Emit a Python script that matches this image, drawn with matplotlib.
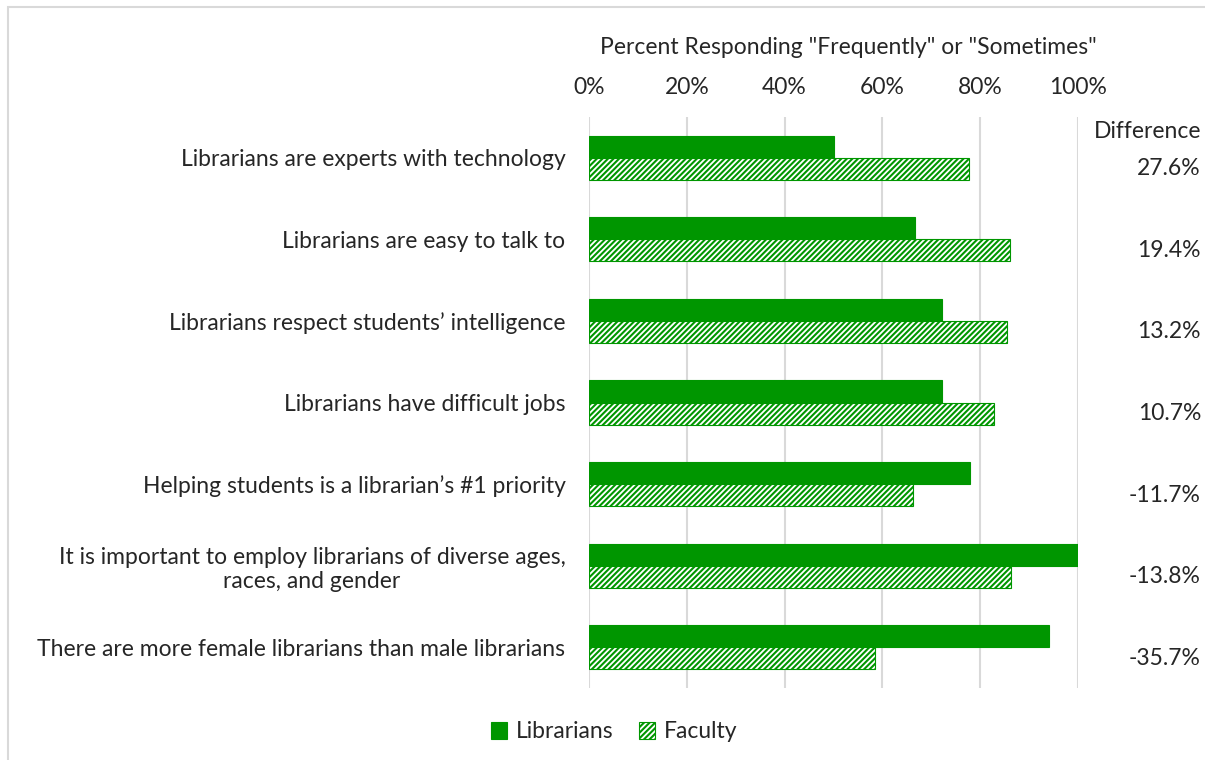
import numpy as np
import matplotlib.pyplot as plt
from matplotlib.patches import Rectangle
from matplotlib.transforms import blended_transform_factory
from matplotlib.ticker import PercentFormatter

plt.rcParams['font.family'] = ['Lato', 'DejaVu Sans']
plt.rcParams['hatch.linewidth'] = 1.5

categories = ['Librarians are experts with technology',
              'Librarians are easy to talk to',
              'Librarians respect students\u2019 intelligence',
              'Librarians have difficult jobs',
              'Helping students is a librarian\u2019s #1 priority',
              'It is important to employ librarians of diverse ages,\nraces, and gender',
              'There are more female librarians than male librarians']
librarians = [50.1, 66.7, 72.2, 72.2, 77.9, 100.0, 94.1]
faculty = [77.7, 86.1, 85.4, 82.9, 66.2, 86.2, 58.4]
difference = ['27.6%', '19.4%', '13.2%', '10.7%', '-11.7%', '-13.8%', '-35.7%']

green = '#009600'
txt = '#262626'
fs = 16.5
W, H = 1205, 760

fig = plt.figure(figsize=(W / 100, H / 100), dpi=100)
ax = fig.add_axes([589 / W, 1 - 688 / H, (1078 - 589) / W, (688 - 117) / H])

y = np.arange(len(categories))
bh = 0.27
ax.barh(y - bh / 2, librarians, height=bh, color=green, edgecolor=green,
        linewidth=0.8, label='Librarians', zorder=3)
ax.barh(y + bh / 2, faculty, height=bh, color='white', edgecolor=green,
        hatch='//////', linewidth=0.8, label='Faculty', zorder=3)

ax.set_ylim(len(categories) - 0.5, -0.5)
ax.set_xlim(0, 100)
ax.set_xticks(np.arange(0, 101, 20))
ax.xaxis.set_major_formatter(PercentFormatter(decimals=0))
ax.xaxis.tick_top()
ax.tick_params(axis='x', length=0, pad=14, labelsize=fs, labelcolor=txt)
ax.set_yticks(y)
ax.set_yticklabels(categories, ha='right', multialignment='center')
ax.tick_params(axis='y', length=0, pad=17, labelsize=fs, labelcolor=txt)
ax.grid(axis='x', color='#d9d9d9', linewidth=1.5, zorder=0)
for s in ax.spines.values():
    s.set_visible(False)

fig.text(848 / W, 1 - 48 / H, 'Percent Responding "Frequently" or "Sometimes"',
         ha='center', va='center', fontsize=fs, color=txt)
fig.text(1148 / W, 1 - 131 / H, 'Difference', ha='center', va='center',
         fontsize=fs, color=txt)
tr = blended_transform_factory(fig.transFigure, ax.transData)
for yi, d in zip(y, difference):
    ax.text(1201 / W, yi + bh / 2, d, transform=tr, ha='right', va='center',
            fontsize=fs, color=txt)

# chart frame
fig.patches.append(Rectangle((8 / W, -0.1), 1.2, 1 - 7 / H + 0.1,
                             transform=fig.transFigure, fill=False,
                             edgecolor='#d9d9d9', linewidth=1.5))

fig.legend(loc='center', bbox_to_anchor=(614 / W, 1 - 732 / H), ncol=2,
           frameon=False, fontsize=fs, handlelength=0.7, handleheight=0.7,
           handletextpad=0.4, columnspacing=1.1, labelcolor=txt)

fig.savefig('out.png', dpi=100)
